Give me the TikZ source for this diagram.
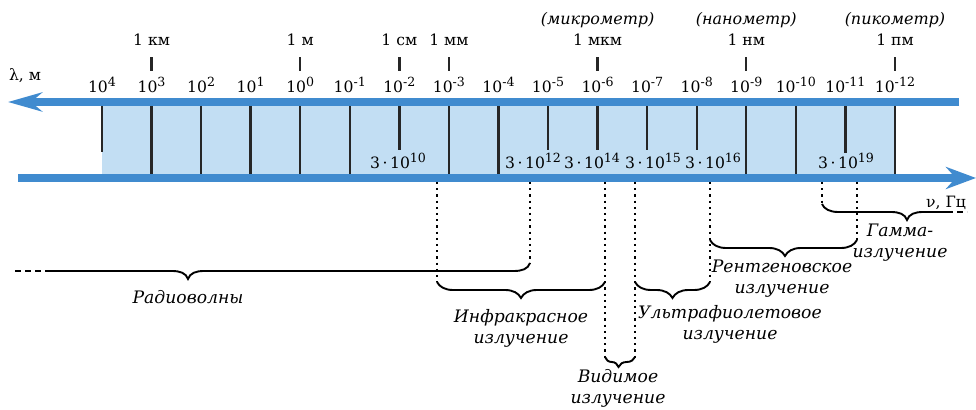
\documentclass[tikz,border=0pt]{standalone}
\usepackage{fontspec}
\setmainfont{DejaVu Serif}
\usepackage{xcolor}
\usepackage{tikz}
\usetikzlibrary{arrows.meta,decorations.pathreplacing}

\definecolor{bandblue}{RGB}{64,139,207}
\definecolor{fillblue}{RGB}{194,222,243}
\newcommand{\pw}[1]{\raisebox{0.42em}{\fontsize{6.3}{6.3}\selectfont #1}}

\begin{document}
\begin{tikzpicture}[x=0.5pt,y=-0.5pt,>=Latex]
  \tikzstyle{axisband}=[bandblue,line width=3.8pt]
  \tikzstyle{decade}=[line width=1.2pt,black!85]
  \tikzstyle{numlbl}=[inner sep=1pt,font=\fontsize{7.8}{8}\selectfont]
  \tikzstyle{unitlbl}=[inner sep=1pt,font=\fontsize{7.8}{8}\selectfont]
  \tikzstyle{bandname}=[align=center,inner sep=1pt,font=\fontsize{8.6}{10.5}\selectfont\itshape]
  \tikzstyle{dotline}=[line width=1.1pt,dash pattern=on 1.1pt off 2pt]
  \tikzstyle{bracepen}=[line width=0.95pt]
  \tikzstyle{spanbrace}=[bracepen,decorate,decoration={brace,mirror,amplitude=8pt}]
  \useasboundingbox (0,0) rectangle (976,410);

  % scale band
  \fill[fillblue] (102,104) rectangle (895,176);
  \foreach \k/\y in {0/152,1/175,2/175,3/175,4/175,5/175,6/150,7/175,8/175,9/150,10/150,11/150,12/150,13/175,14/175,15/153,16/175}
    \draw[decade] ({102+49.56*\k},104) -- ({102+49.56*\k},\y);
  \draw[axisband,-{Stealth[length=17pt,width=9.5pt]}] (959,102) -- (8,102);
  \draw[axisband,-{Stealth[length=15pt,width=11pt]}] (18,178) -- (976,178);

  % wavelengths
  \foreach \k/\p in {0/4,1/3,2/2,3/1,4/0,5/-1,6/-2,7/-3,8/-4,9/-5,10/-6,11/-7,12/-8,13/-9,14/-10,15/-11,16/-12}
    \node[numlbl] (p\k) at ({102+49.56*\k},85) {10\pw{\p}};
  \foreach \k/\t in {1/1 км,4/1 м,6/1 см,7/1 мм,10/1 мкм,13/1 нм,16/1 пм}
    \node[unitlbl] (u\k) at ({102+49.56*\k},40) {\t};
  \foreach \k in {1,4,6,7,10,13,16}
    \draw[decade,shorten <=4.5pt,shorten >=2pt] (u\k) -- (p\k);
  \foreach \k/\t in {10/микрометр,13/нанометр,16/пикометр}
    \node[unitlbl,font=\fontsize{8}{8}\selectfont\itshape] (n\k) at ({102+49.56*\k},20) {(\t)};
  \node[unitlbl] (lam) at (25,76) {λ, м};

  % frequencies
  \foreach \x/\e in {398/10,533/12,592/14,653/15,713/16,846/19}
    \node[numlbl] (f\e) at (\x,161) {3\,·\,10\pw{\e}};
  \node[unitlbl] (nu) at (946,203) {ν, Гц};

  % ranges
  \foreach \n/\x/\l in {irL/437/100,radR/530/82,visL/605/176,visR/635/176,uvR/710/100,gamL/822/22,xrR/857/58}{
    \coordinate (\n) at (\x,182);
    \draw[dotline] (\n) -- ++(0,\l);
  }
  \draw[bracepen,dash pattern=on 3pt off 2pt] (15,271) -- (47,271);
  \draw[bracepen] (47,271) -- (172,271) .. controls (180,271) and (186,273) .. (188,279) .. controls (190,273) and (196,271) .. (204,271) -- (514,271) .. controls (522,271) and (528,269) .. (530,263);
  \draw[spanbrace,decoration={aspect=0.5}] (437,282) -- (605,282);
  \draw[spanbrace,decoration={amplitude=5pt,aspect=0.45}] (605,357) -- (635,357);
  \draw[spanbrace,decoration={aspect=0.5}] (635,282) -- (710,282);
  \draw[spanbrace,decoration={aspect=0.51}] (710,240) -- (857,240);
  \draw[bracepen] (822,204) .. controls (824,209) and (830,212) .. (838,212) -- (891,212) .. controls (899,212) and (905,214) .. (907,220) .. controls (909,214) and (915,212) .. (923,212) -- (947,212);
  \draw[bracepen,dash pattern=on 3pt off 2pt] (947,212) -- (967,212);

  \node[bandname] (radio) at (188,297) {Радиоволны};
  \node[bandname] (ir) at (521,328) {Инфракрасное\\излучение};
  \node[bandname] (vis) at (618,388) {Видимое\\излучение};
  \node[bandname] (uv) at (730,324) {Ультрафиолетовое\\излучение};
  \node[bandname] (xray) at (782,279) {Рентгеновское\\излучение};
  \node[bandname] (gamma) at (900,243) {Гамма-\\излучение};
\end{tikzpicture}
\end{document}
